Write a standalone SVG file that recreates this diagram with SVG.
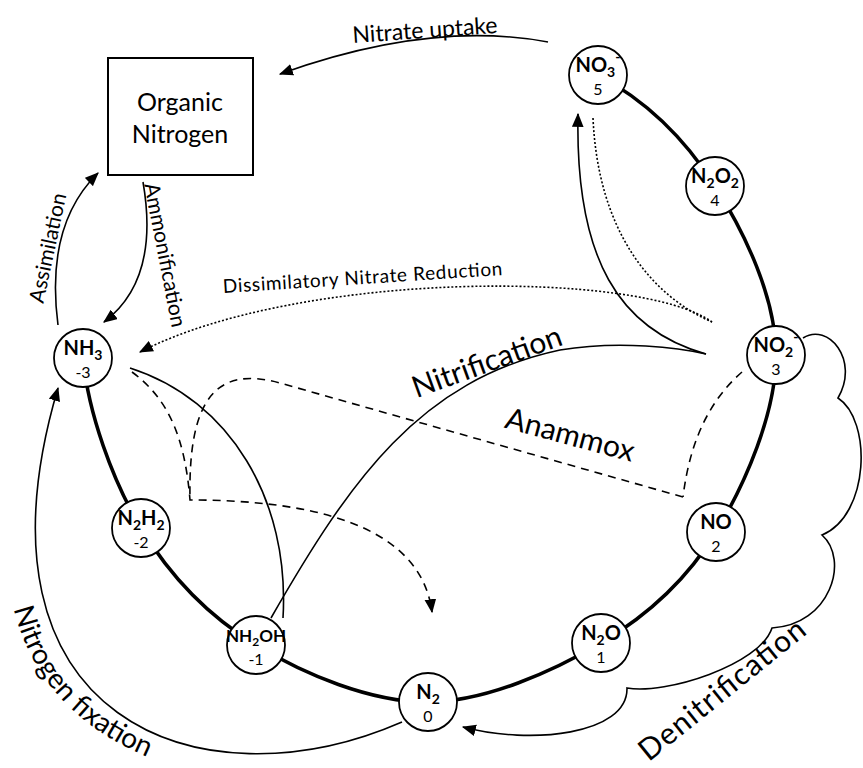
<svg xmlns="http://www.w3.org/2000/svg" width="863" height="768" viewBox="0 0 863 768">
<defs>
<style>
.ring{fill:none;stroke:#000;stroke-width:3.5}
.node circle{fill:#fff;stroke:#000;stroke-width:1.8}
.f{font-family:Lato,"Open Sans",sans-serif;font-weight:bold;font-size:20px;text-anchor:middle}
.n{font-family:Lato,"Open Sans",sans-serif;font-size:16px;text-anchor:middle}
.c{fill:none;stroke:#000;stroke-width:1.6}
.dot{stroke-dasharray:2 2}
.dash{stroke-dasharray:8 6}
.lbl{font-family:Lato,"Open Sans",sans-serif;font-size:21px;text-anchor:middle}
.big{font-size:30px}
.box{fill:#fff;stroke:#000;stroke-width:2}
</style>
<marker id="ah" viewBox="0 0 12 10" refX="11" refY="5" markerWidth="14" markerHeight="12" markerUnits="userSpaceOnUse" orient="auto">
<path d="M0,0 L12,5 L0,10 z" fill="#000"/>
</marker>
<path id="fixpath" d="M10,590 Q30,715 165,764"/>
</defs>
<rect width="863" height="768" fill="#fff"/>
<g id="connectors">
<path class="ring" d="M598,75 C645.5,100.2 685.3,139.3 715,186 C744.7,232.7 775.8,297.3 776,355 C776.2,412.7 745.2,484 716,532 C686.8,580 649,614.7 601,643 C553,671.3 485.5,701.7 428,702 C370.5,702.3 303.8,674 256,645 C208.2,616 169.8,575.8 141,528 C112.2,480.2 88.2,412.7 83,358"/>
<path class="c" d="M548,42 Q430,20 280,74" marker-end="url(#ah)"/>
<path class="c" d="M58,325 Q45,225 98,173" marker-end="url(#ah)"/>
<path class="c" d="M143,182 Q160,280 104,322" marker-end="url(#ah)"/>
<path class="c dot" d="M712,322 C640,270 300,270 140,352" marker-end="url(#ah)"/>
<path class="c dot" d="M593,118 C598,230 650,295 712,322"/>
<path class="c" d="M130,368 C230,400 290,500 283,618"/>
<path class="c" d="M271,618 C350,480 420,380 560,350 C620,340 680,348 706,354"/>
<path class="c" d="M706,354 C620,330 575,260 578,114" marker-end="url(#ah)"/>
<path class="c dash" d="M742,372 C710,400 690,440 683,497"/>
<path class="c dash" d="M683,497 L280,383 C215,365 188,400 190,500"/>
<path class="c dash" d="M132,372 C170,400 185,440 190,500 C300,500 420,520 432,612" marker-end="url(#ah)"/>
<path class="c" d="M402,722 C200,810 -40,720 58,388" marker-end="url(#ah)"/>
<path class="c" d="M803,338 C828,322 860,360 838,398 C872,420 870,515 822,535 C850,560 830,625 772,628 C760,665 665,695 627,688 C628,735 530,745 463,727" marker-end="url(#ah)"/>
</g>
<g id="organic-nitrogen">
<rect class="box" x="108" y="58" width="145" height="117"/>
<text class="lbl" x="180" y="111" style="font-size:25px">Organic</text>
<text class="lbl" x="180" y="143" style="font-size:25px">Nitrogen</text>
</g>
<g id="node-no3" class="node"><circle cx="598" cy="75" r="29"/><text class="f" x="598" y="72">NO<tspan font-size="14" dy="5">3</tspan><tspan font-size="14" dy="-15">-</tspan></text><text class="n" x="598" y="95">5</text></g>
<g id="node-n2o2" class="node"><circle cx="715" cy="186" r="29"/><text class="f" x="715" y="183">N<tspan font-size="14" dy="5">2</tspan><tspan dy="-5">O</tspan><tspan font-size="14" dy="5">2</tspan></text><text class="n" x="715" y="206">4</text></g>
<g id="node-no2" class="node"><circle cx="776" cy="355" r="29"/><text class="f" x="776" y="352">NO<tspan font-size="14" dy="5">2</tspan><tspan font-size="14" dy="-15">-</tspan></text><text class="n" x="776" y="375">3</text></g>
<g id="node-no" class="node"><circle cx="716" cy="532" r="29"/><text class="f" x="716" y="529">NO</text><text class="n" x="716" y="552">2</text></g>
<g id="node-n2o" class="node"><circle cx="601" cy="643" r="29"/><text class="f" x="601" y="640">N<tspan font-size="14" dy="5">2</tspan><tspan dy="-5">O</tspan></text><text class="n" x="601" y="663">1</text></g>
<g id="node-n2" class="node"><circle cx="428" cy="702" r="29"/><text class="f" x="428" y="699">N<tspan font-size="14" dy="5">2</tspan></text><text class="n" x="428" y="722">0</text></g>
<g id="node-nh2oh" class="node"><circle cx="256" cy="645" r="29"/><text class="f" x="256" y="642" style="font-size:17px">NH<tspan font-size="12" dy="4">2</tspan><tspan dy="-4">OH</tspan></text><text class="n" x="256" y="665">-1</text></g>
<g id="node-n2h2" class="node"><circle cx="141" cy="528" r="29"/><text class="f" x="141" y="525">N<tspan font-size="14" dy="5">2</tspan><tspan dy="-5">H</tspan><tspan font-size="14" dy="5">2</tspan></text><text class="n" x="141" y="548">-2</text></g>
<g id="node-nh3" class="node"><circle cx="83" cy="358" r="29"/><text class="f" x="83" y="355">NH<tspan font-size="14" dy="5">3</tspan></text><text class="n" x="83" y="378">-3</text></g>
<g id="labels">
<text class="lbl" x="425" y="38" transform="rotate(-4 425 31)" style="font-size:23px">Nitrate uptake</text>
<text class="lbl" x="48" y="255" transform="rotate(-78 48 248)">Assimilation</text>
<text class="lbl" x="165" y="262" transform="rotate(79 165 255)">Ammonification</text>
<text class="lbl" x="363" y="284" transform="rotate(-3.7 363 284)" style="font-size:19px" textLength="280">Dissimilatory Nitrate Reduction</text>
<text class="lbl big" x="487" y="372" transform="rotate(-20 487 362)">Nitrification</text>
<text class="lbl big" x="570" y="445" transform="rotate(15 570 435)">Anammox</text>
<text class="lbl big" style="font-size:28px"><textPath href="#fixpath" startOffset="50%">Nitrogen fixation</textPath></text>
<text class="lbl big" x="722" y="700" transform="rotate(-39 722 690)" textLength="205">Denitrification</text>
</g>
</svg>
